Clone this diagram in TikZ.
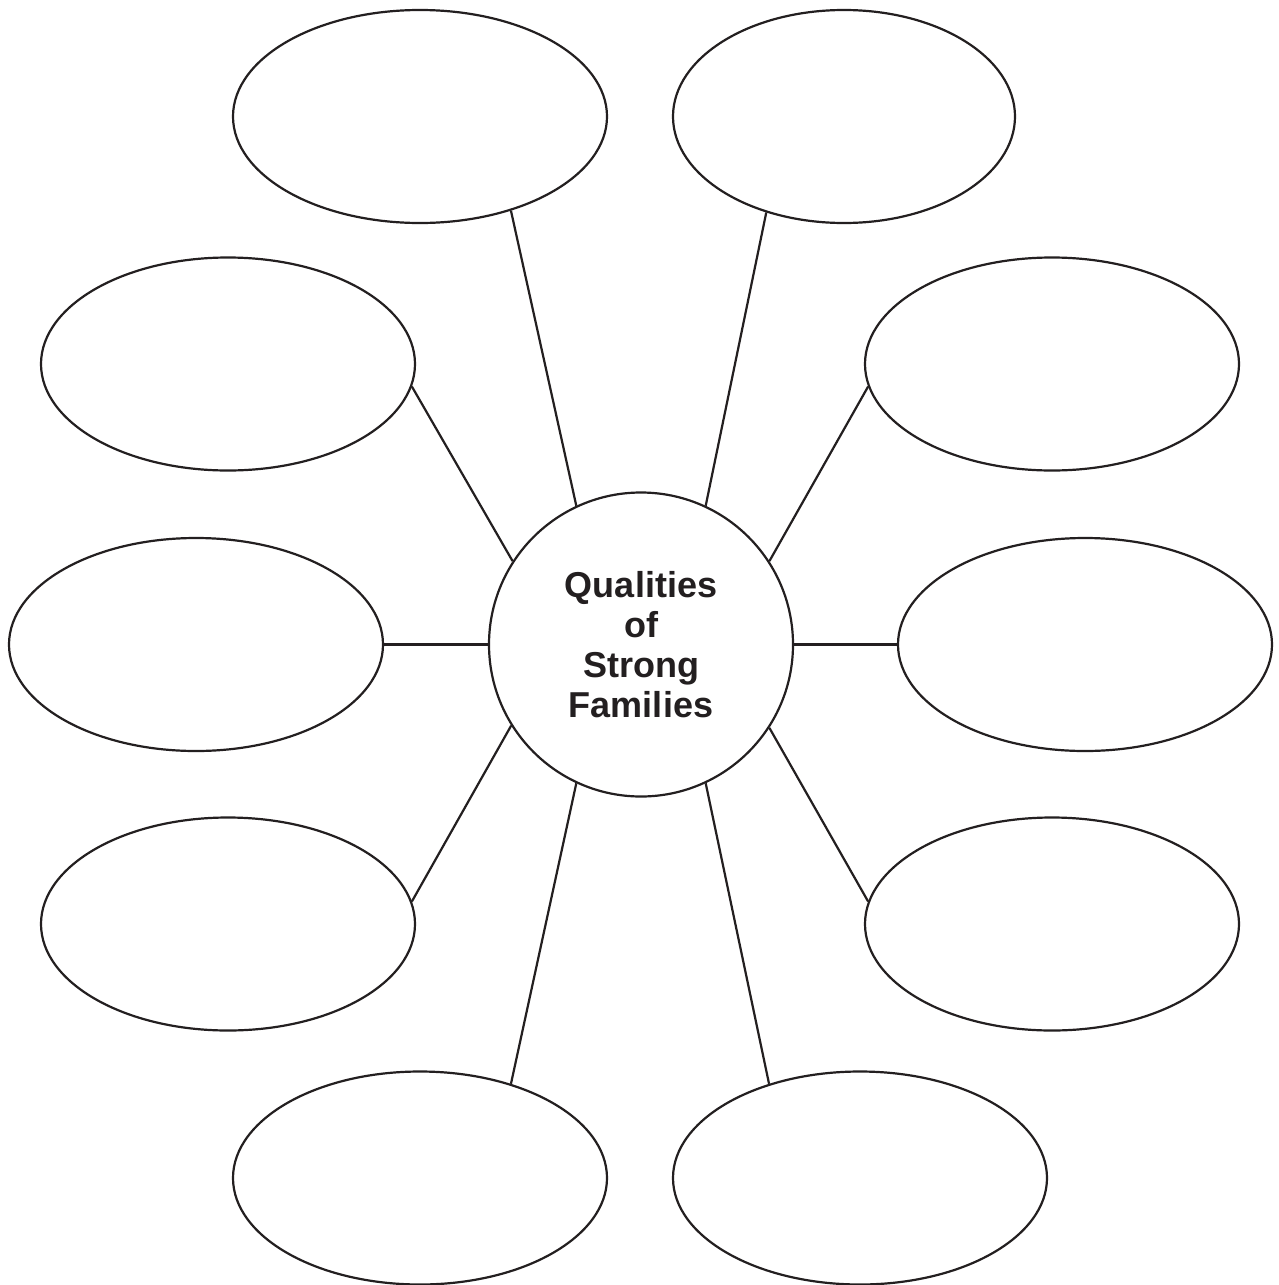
\documentclass[tikz,border=0pt]{standalone}
\usepackage{fontspec}
\setmainfont{Liberation Sans}
\usetikzlibrary{shapes.geometric}
\definecolor{ink}{HTML}{231F20}
\begin{document}
\begin{tikzpicture}[x=1pt,y=-1pt,
  bubble/.style={ellipse, draw=ink, line width=2.2pt, minimum width=374pt, minimum height=213pt, inner sep=0pt},
  hub/.style={circle, draw=ink, line width=2.2pt, minimum size=304pt, inner sep=0pt, align=center, font=\fontsize{36}{40}\selectfont\bfseries, text=ink},
  link/.style={draw=ink, line width=2.2pt}]
\useasboundingbox[fill=white] (0,0) rectangle (1278,1285);
\node[hub] (c) at (641,644.5) {Qualities\\of\\Strong\\Families};
\node[bubble] (tl) at (420,116.5) {};
\node[bubble, minimum width=342pt] (tr) at (844,116.5) {};
\node[bubble] (lu) at (228,364) {};
\node[bubble] (ru) at (1052,364) {};
\node[bubble] (lm) at (196,644.5) {};
\node[bubble] (rm) at (1085,644.5) {};
\node[bubble] (ll) at (228,924) {};
\node[bubble] (rl) at (1052,924) {};
\node[bubble] (bl) at (420,1178) {};
\node[bubble] (br) at (860,1178) {};
\draw[link] (c.115) -- (tl.314);
\draw[link] (c.65) -- (tr.231);
\draw[link] (c.147) -- (lu.353);
\draw[link] (c.33) -- (ru.187);
\draw[link] (c.west) -- (lm.east);
\draw[link] (c.east) -- (rm.west);
\draw[link] (c.212) -- (ll.7);
\draw[link] (c.327) -- (rl.173);
\draw[link] (c.245) -- (bl.46);
\draw[link] (c.295) -- (br.134);
\end{tikzpicture}
\end{document}
